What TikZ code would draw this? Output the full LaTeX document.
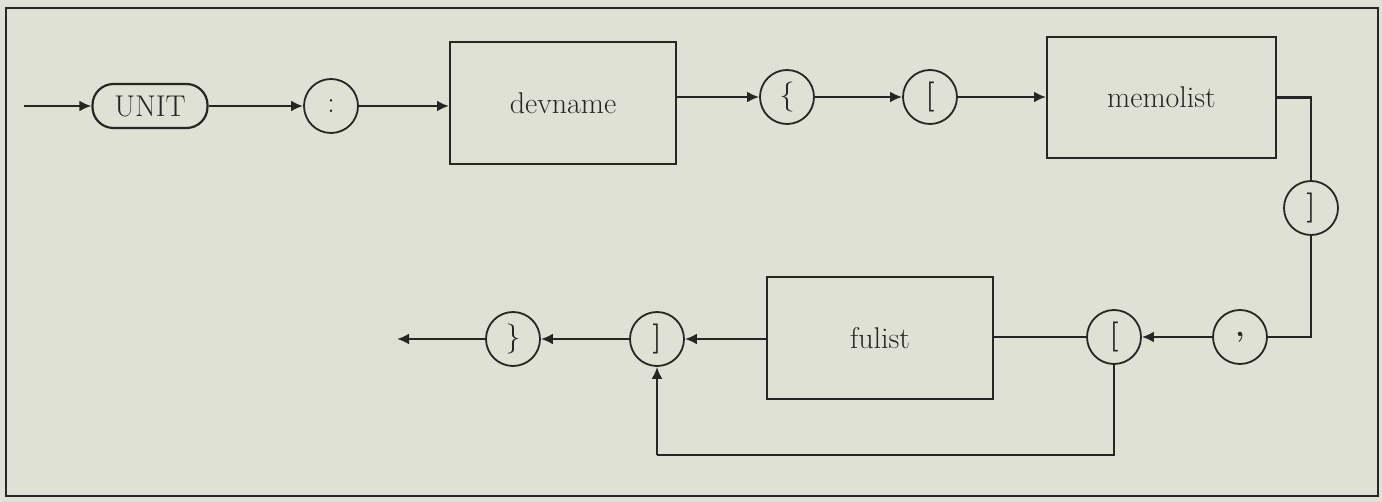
\documentclass[tikz,border=0pt]{standalone}
\usetikzlibrary{arrows.meta}
\definecolor{bg}{HTML}{DFE1D4}
\definecolor{ink}{HTML}{262626}
\begin{document}
\begin{tikzpicture}[x=1pt,y=-1pt,
  every node/.style={font=\fontsize{30}{32}\selectfont, text=ink},
  conn/.style={draw=ink, line width=2.6pt},
  arr/.style={conn, -{Latex[length=12pt,width=11pt]}},
  sym/.style={circle, draw=ink, line width=1.8pt, minimum size=54pt, inner sep=0pt},
  boxn/.style={rectangle, draw=ink, line width=2pt, minimum width=226pt, minimum height=122pt, inner sep=0pt},
  pill/.style={rectangle, draw=ink, line width=2.2pt, rounded corners=21pt, minimum width=115pt, minimum height=44pt, inner sep=0pt}]
\fill[bg] (0,0) rectangle (1382,502);
\useasboundingbox (0,0) rectangle (1382,502);
\draw[ink, line width=2pt] (6,8) rectangle (1378,496);

\coordinate (start) at (24,106);
\node[pill] (unit) at (150,106) {UNIT};
\node[sym] (colon) at (331,106) {:};
\node[boxn] (devname) at (563,103) {devname};
\node[sym] (lbrace) at (787,97) {\{};
\node[sym] (lbrackA) at (930,97) {\textbf{[}};
\node[boxn, minimum width=229pt, minimum height=121pt] (memolist) at (1161.5,97.5) {memolist};
\node[sym] (rbrackA) at (1311,208) {\textbf{]}};
\node[sym] (comma) at (1240,337) {\textbf{,}};
\node[sym] (lbrackB) at (1114,337) {\textbf{[}};
\node[boxn] (fulist) at (880,338) {fulist};
\node[sym] (rbrackB) at (657,339) {\textbf{]}};
\node[sym] (rbrace) at (513,339) {\}};
\coordinate (end) at (397,339);
\coordinate (loopR) at (1114,455);
\coordinate (loopL) at (657,455);

\draw[arr] (start) -- (unit.west);
\draw[arr] (unit.east) -- (colon.west);
\draw[arr] (colon.east) -- (colon.east -| devname.west);
\draw[arr] (devname.east |- lbrace.west) -- (lbrace.west);
\draw[arr] (lbrace.east) -- (lbrackA.west);
\draw[arr] (lbrackA.east) -- (lbrackA.east -| memolist.west);
\draw[conn] (memolist.east) -- (memolist.east -| rbrackA.north) -- (rbrackA.north);
\draw[conn] (rbrackA.south) -- (rbrackA.south |- comma.east) -- (comma.east);
\draw[arr] (comma.west) -- (lbrackB.east);
\draw[conn] (lbrackB.west) -- (lbrackB.west -| fulist.east);
\draw[arr] (fulist.west |- rbrackB.east) -- (rbrackB.east);
\draw[arr] (rbrackB.west) -- (rbrace.east);
\draw[arr] (rbrace.west) -- (end);
\draw[conn] (lbrackB.south) -- (loopR) -- (loopL);
\draw[arr] (loopL) -- (rbrackB.south);
\end{tikzpicture}
\end{document}
